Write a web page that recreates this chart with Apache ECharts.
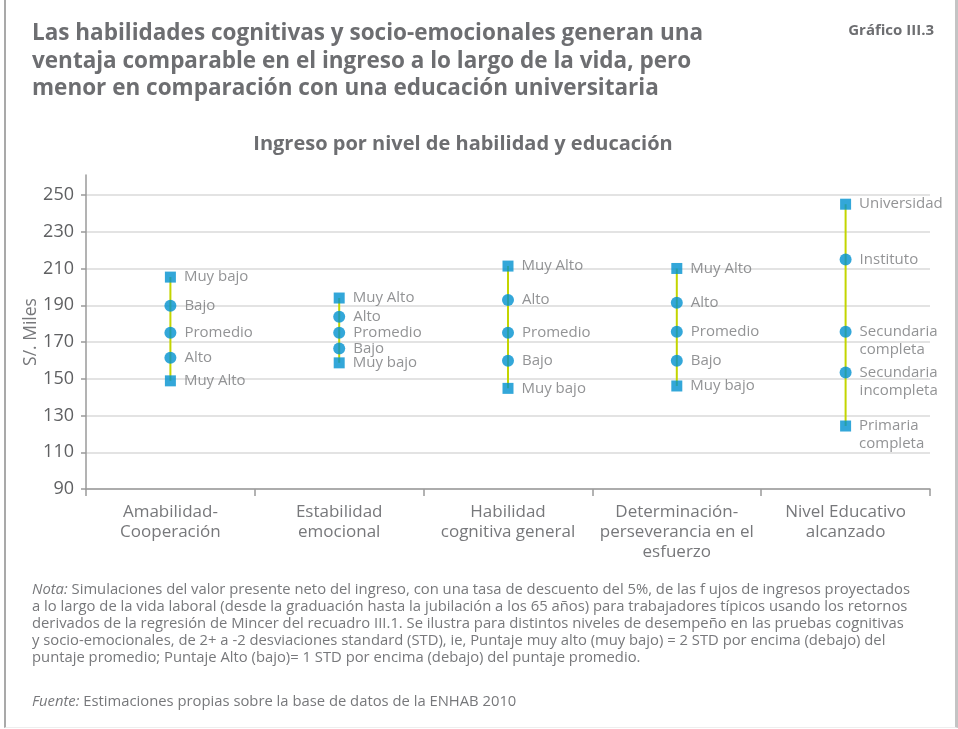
<!DOCTYPE html>
<html>
<head>
<meta charset="utf-8">
<script src="https://cdn.jsdelivr.net/npm/echarts@6/dist/echarts.min.js"></script>
<style>
html, body { margin: 0; padding: 0; background: #fff; }
#wrap { position: relative; width: 958px; height: 729px; }
#main { width: 958px; height: 729px; }
#frame { position: absolute; left: 4px; top: 0; width: 949px; height: 727px;
  border-left: 2px solid #a9a9a9; border-right: 3px solid #c4c4c4; border-bottom: 1px solid #eeeeee;
  pointer-events: none; }
</style>
</head>
<body>
<div id="wrap">
  <div id="main"></div>
  <div id="frame"></div>
</div>
<script>
// categorias del eje x
var categories = ['Amabilidad-\nCooperación', 'Estabilidad\nemocional', 'Habilidad\ncognitiva general',
  'Determinación-\nperseverancia en el\nesfuerzo', 'Nivel Educativo\nalcanzado'];

// ingreso (S/. miles), de arriba hacia abajo en cada columna
var amabilidad = [205.4, 189.8, 175.1, 161.5, 148.9];
var estabilidad = [194.0, 183.8, 175.1, 166.5, 158.7];
var habilidad = [211.4, 192.9, 175.1, 159.8, 144.8];
var determinacion = [210.1, 191.4, 175.6, 159.8, 146.1];
var educacion = [245.1, 215.0, 175.6, 153.5, 124.3];

// etiquetas de cada punto
var labelsAmab = ['Muy bajo', 'Bajo', 'Promedio', 'Alto', 'Muy Alto'];
var labelsHab = ['Muy Alto', 'Alto', 'Promedio', 'Bajo', 'Muy bajo'];
var labelsEdu = ['Universidad', 'Instituto', 'Secundaria\ncompleta', 'Secundaria\nincompleta', 'Primaria\ncompleta'];

var yTicks = [90, 110, 130, 150, 170, 190, 210, 230, 250];

var columns = [
  { vals: amabilidad, labels: labelsAmab },
  { vals: estabilidad, labels: labelsHab },
  { vals: habilidad, labels: labelsHab },
  { vals: determinacion, labels: labelsHab },
  { vals: educacion, labels: labelsEdu }
];

var grey = '#6d6e71';
var blue = '#0091d0';
var lime = '#c3d500';
var font = 'Open Sans';

var series = [];
columns.forEach(function (col, i) {
  // linea vertical que une los puntos
  series.push({
    type: 'line',
    data: col.vals.map(function (v) { return [categories[i], v]; }),
    symbol: 'none',
    lineStyle: { color: lime, width: 2 },
    silent: true,
    z: 2
  });
  var last = col.vals.length - 1;
  series.push({
    type: 'scatter',
    z: 3,
    data: col.vals.map(function (v, j) {
      var edge = (j === 0 || j === last);
      var name = col.labels[j];
      return {
        name: name,
        value: [categories[i], v],
        symbol: edge ? 'rect' : 'circle',
        symbolSize: edge ? 11 : 12,
        label: { offset: name.indexOf('\n') >= 0 ? [0, 9] : [0, 0] }
      };
    }),
    itemStyle: { color: blue },
    label: {
      show: true,
      position: 'right',
      distance: 8,
      formatter: '{b}',
      color: '#77787b',
      fontFamily: font,
      fontSize: 15,
      lineHeight: 18
    }
  });
});

var option = {
  animation: false,
  textStyle: { fontFamily: font },
  grid: { left: 86, right: 28, top: 175, bottom: 240 },
  xAxis: {
    type: 'category',
    data: categories,
    boundaryGap: true,
    axisLine: { lineStyle: { color: '#9a9a9a', width: 1.5 } },
    axisTick: { show: true, length: 7, lineStyle: { color: '#9a9a9a', width: 1.5 } },
    axisLabel: { interval: 0, color: '#77787b', fontSize: 17, lineHeight: 20, margin: 13 },
    splitLine: { show: false }
  },
  yAxis: {
    type: 'value',
    min: 90,
    max: 261,
    interval: 20,
    name: 'S/. Miles',
    nameLocation: 'middle',
    nameGap: 46,
    nameMoveOverlap: false,
    nameTextStyle: { color: '#77787b', fontSize: 17.5 },
    axisLine: { show: true, lineStyle: { color: '#9a9a9a', width: 1.5 } },
    axisTick: { show: true, length: 5, customValues: yTicks, lineStyle: { color: '#9a9a9a', width: 1.5 } },
    axisLabel: { color: '#5f6062', fontSize: 18, margin: 12, customValues: yTicks },
    splitLine: {
      show: true,
      lineStyle: { width: 1.5, color: ['#dadada', '#dadada', '#dadada', '#dadada', '#dadada',
        '#dadada', '#dadada', '#dadada', '#dadada', 'rgba(0,0,0,0)'] }
    }
  },
  graphic: [
    {
      type: 'text', left: 32, top: 20,
      style: {
        text: 'Las habilidades cognitivas y socio-emocionales generan una\nventaja comparable en el ingreso a lo largo de la vida, pero\nmenor en comparación con una educación universitaria',
        font: 'bold 22.5px "Open Sans"', fill: grey, lineHeight: 27.5
      }
    },
    {
      type: 'text', right: 24, top: 23,
      style: { text: 'Gráfico III.3', font: 'bold 15px "Open Sans"', fill: grey }
    },
    {
      type: 'text', x: 463, y: 144,
      style: {
        text: 'Ingreso por nivel de habilidad y educación',
        font: 'bold 20px "Open Sans"', fill: grey, textAlign: 'center', textVerticalAlign: 'middle'
      }
    },
    {
      type: 'text', left: 32, top: 581,
      style: {
        text: '{i|Nota:} Simulaciones del valor presente neto del ingreso, con una tasa de descuento del 5%, de las f ujos de ingresos proyectados\n' +
          'a lo largo de la vida laboral (desde la graduación hasta la jubilación a los 65 años) para trabajadores típicos usando los retornos\n' +
          'derivados de la regresión de Mincer del recuadro III.1. Se ilustra para distintos niveles de desempeño en las pruebas cognitivas\n' +
          'y socio-emocionales, de 2+ a -2 desviaciones standard (STD), ie, Puntaje muy alto (muy bajo) = 2 STD por encima (debajo) del\n' +
          'puntaje promedio; Puntaje Alto (bajo)= 1 STD por encima (debajo) del puntaje promedio.',
        fontFamily: font, fontSize: 14.8, fill: '#77787b', lineHeight: 17,
        rich: { i: { fontFamily: font, fontSize: 14.8, fontStyle: 'italic', fill: '#77787b', lineHeight: 17 } }
      }
    },
    {
      type: 'text', left: 32, top: 693,
      style: {
        text: '{i|Fuente:} Estimaciones propias sobre la base de datos de la ENHAB 2010',
        fontFamily: font, fontSize: 14.8, fill: '#77787b', lineHeight: 17,
        rich: { i: { fontFamily: font, fontSize: 14.8, fontStyle: 'italic', fill: '#77787b', lineHeight: 17 } }
      }
    }
  ],
  series: series
};

var chart = echarts.init(document.getElementById('main'));
chart.setOption(option);
</script>
</body>
</html>
